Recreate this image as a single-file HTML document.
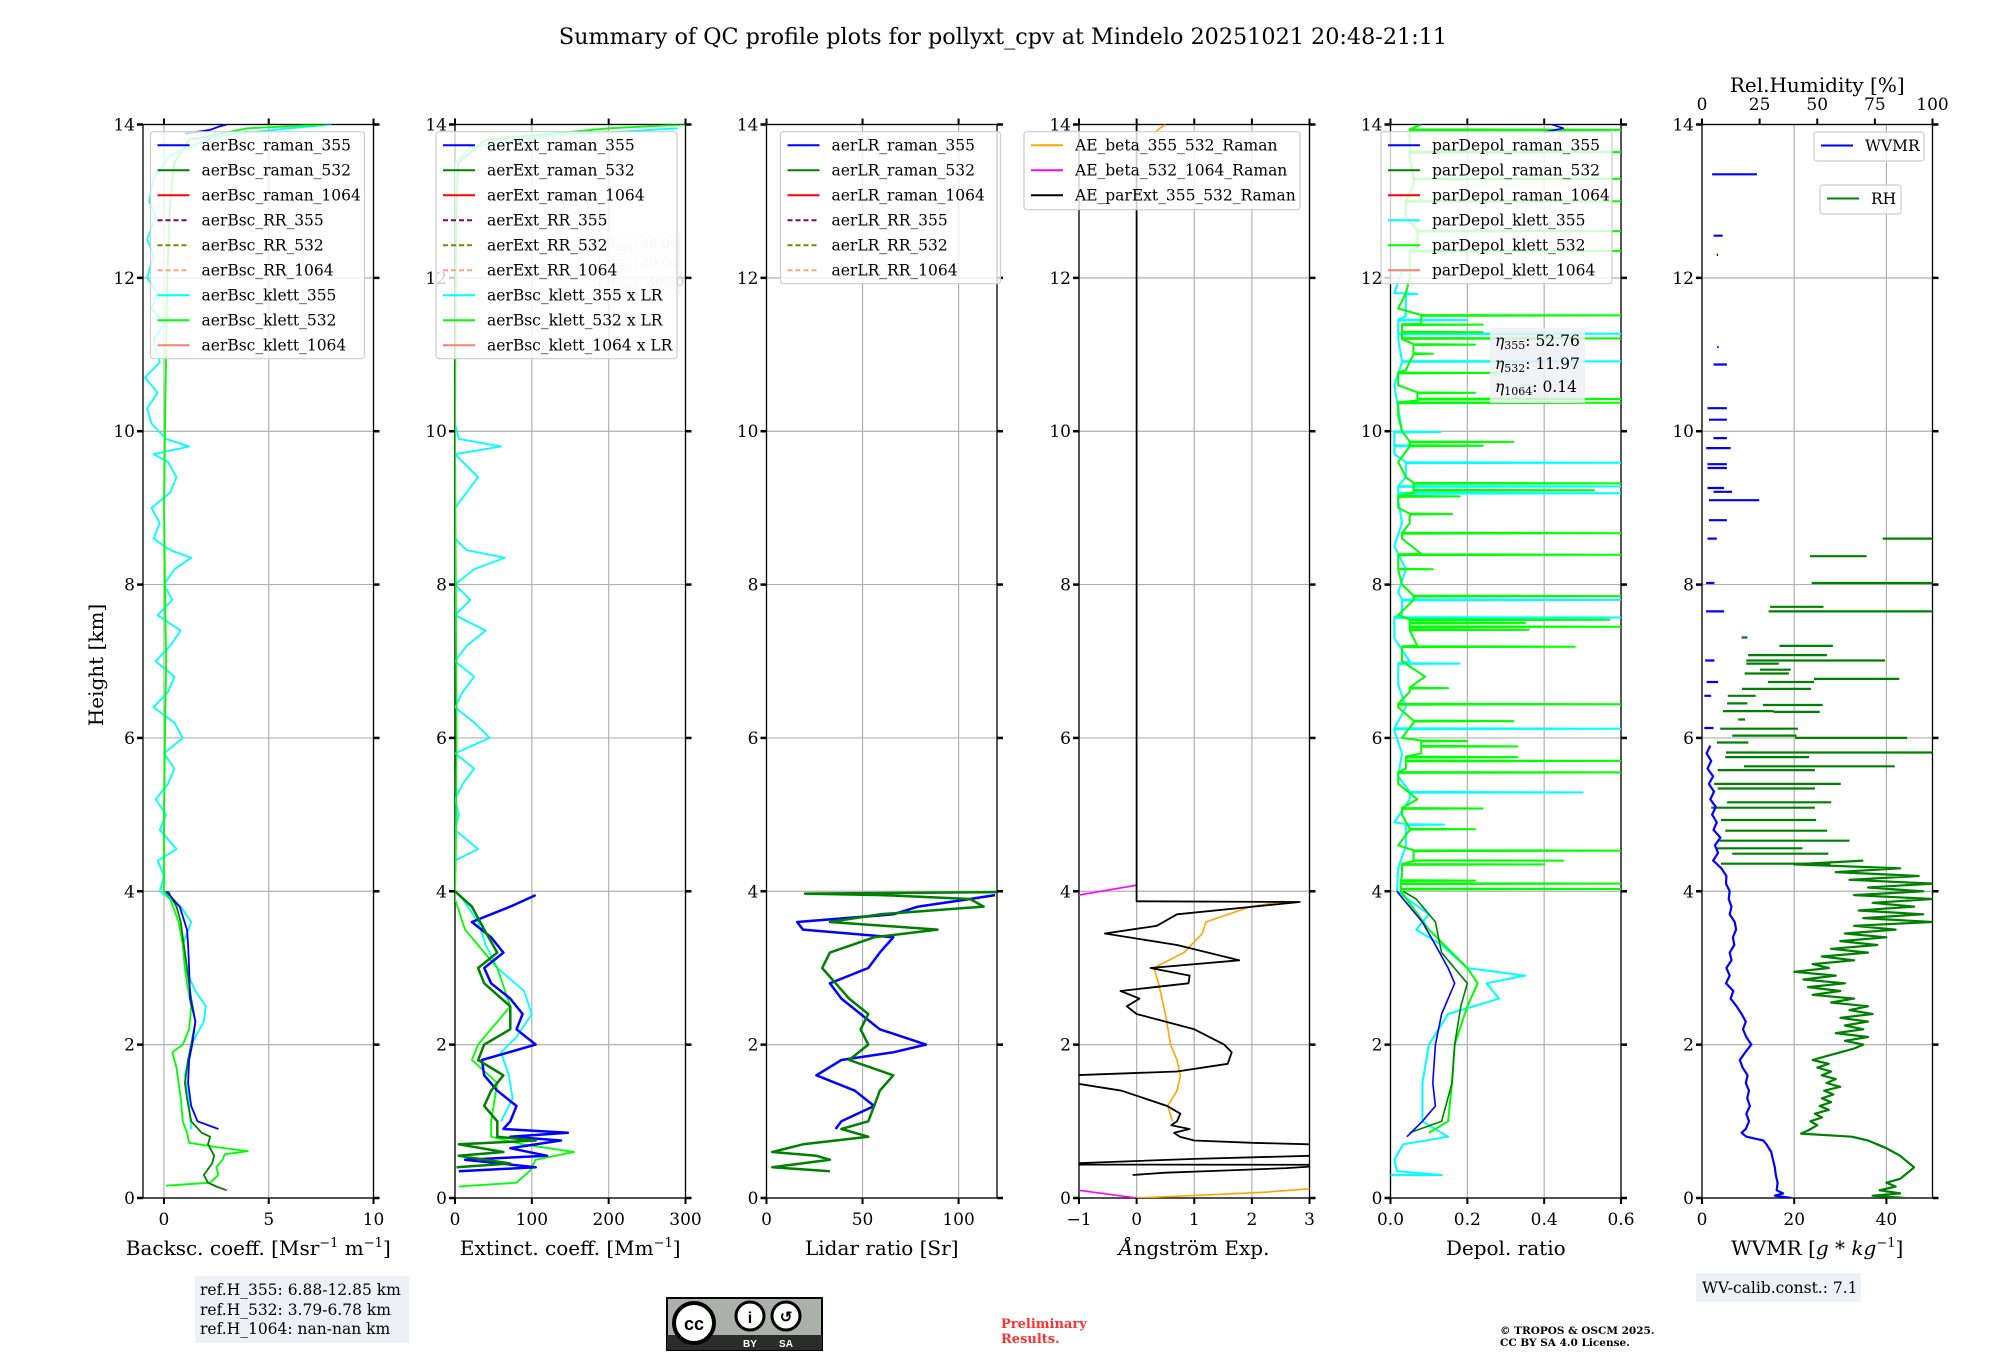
<!DOCTYPE html>
<html><head><meta charset="utf-8"><style>
html,body{margin:0;padding:0;background:#fff;}
svg{display:block;font-family:"DejaVu Serif","Liberation Serif",serif;}
</style></head><body>
<svg id="fig" xmlns="http://www.w3.org/2000/svg" width="2000" height="1360" viewBox="0 0 2000 1360">
<rect width="2000" height="1360" fill="#fff"/>
<text x="1003" y="44" font-size="22.3" text-anchor="middle">Summary of QC profile plots for pollyxt_cpv at Mindelo 20251021 20:48-21:11</text>
<text transform="translate(103,665) rotate(-90)" font-size="20" text-anchor="middle">Height [km]</text>
<g id="layer"></g>
<g>
<rect x="195" y="1276" width="214" height="67" fill="#eef0f5"/>
<text x="200" y="1295" font-size="15.5">ref.H_355: 6.88-12.85 km</text>
<text x="200" y="1315" font-size="15.5">ref.H_532: 3.79-6.78 km</text>
<text x="200" y="1334" font-size="15.5">ref.H_1064: nan-nan km</text>
</g>
<g>
<rect x="667" y="1298" width="155" height="52" fill="#abb1aa" stroke="#000" stroke-width="2"/>
<rect x="667" y="1335" width="155" height="15" fill="#2b2b2b"/>
<circle cx="694" cy="1323" r="20" fill="#fff" stroke="#000" stroke-width="4"/>
<text x="694" y="1330" font-size="18" font-weight="bold" text-anchor="middle" font-family="Liberation Sans, sans-serif">cc</text>
<circle cx="750" cy="1316" r="14" fill="#fff" stroke="#000" stroke-width="3"/>
<text x="750" y="1323" font-size="16" font-weight="bold" text-anchor="middle" font-family="Liberation Sans, sans-serif">i</text>
<circle cx="786" cy="1316" r="14" fill="#fff" stroke="#000" stroke-width="3"/>
<text x="786" y="1322" font-size="15" font-weight="bold" text-anchor="middle" font-family="Liberation Sans, sans-serif">↺</text>
<text x="750" y="1347" font-size="10" fill="#fff" font-weight="bold" text-anchor="middle" font-family="Liberation Sans, sans-serif">BY</text>
<text x="786" y="1347" font-size="10" fill="#fff" font-weight="bold" text-anchor="middle" font-family="Liberation Sans, sans-serif">SA</text>
</g>
<text x="1001" y="1328" font-size="13" fill="#ff3030" font-weight="bold">Preliminary</text>
<text x="1001" y="1343" font-size="13" fill="#ff3030" font-weight="bold">Results.</text>
<text x="1500" y="1334" font-size="10.5" font-weight="bold">© TROPOS &amp; OSCM 2025.</text>
<text x="1500" y="1346" font-size="10.5" font-weight="bold">CC BY SA 4.0 License.</text>
<g>
<rect x="1696" y="1273" width="165" height="29" fill="#eef0f5"/>
<text x="1702" y="1293" font-size="15.5">WV-calib.const.: 7.1</text>
</g>
</svg>
<script>
// ===== DATA =====
const b355H=[0.9,1.0,1.2,1.5,1.8,2.0,2.3,2.6,3.0,3.3,3.5,3.8,4.0];
const b355V=[2.6,1.6,1.3,1.15,1.2,1.35,1.5,1.25,1.2,1.15,1.1,0.75,0.1];
const b355TopH=[13.88,13.93,13.97,14.0];
const b355TopV=[1.0,2.2,2.6,3.0];
const b532H=[0.1,0.15,0.2,0.3,0.45,0.55,0.7,0.8,0.85,1.0,1.3,1.5,1.8,2.0,2.3,2.6,2.8,3.2,3.6,3.8,4.0];
const b532V=[3.0,2.5,2.1,1.9,2.3,2.4,2.1,2.2,1.8,1.3,1.1,1.0,1.15,1.3,1.5,1.3,1.2,1.0,0.8,0.6,0.2];
const bk532H=[0.16,0.2,0.3,0.4,0.5,0.57,0.61,0.66,0.72,0.85,1.0,1.3,1.5,1.7,1.9,2.0,2.2,2.5,2.8,3.0,3.3,3.6,3.9,4.0,5,6,7,8,9,10,11,12,13,13.5,13.8,13.95,14.0];
const bk532V=[0.1,2.2,2.6,2.5,2.8,2.9,4.0,2.6,1.2,1.1,0.9,0.8,0.7,0.6,0.4,0.9,1.2,1.3,1.1,1.0,0.9,0.7,0.3,0.0,0.0,0.05,0.1,0.05,0.0,0.05,0.1,0.15,0.3,0.5,1.2,4.0,7.7];
const bk355H=[0.9,1.2,1.6,2.0,2.3,2.5,2.7,3.0,3.3,3.6,3.8,4.0,4.2,4.4,4.55,4.8,5.0,5.2,5.4,5.6,5.8,6.0,6.2,6.4,6.6,6.8,7.0,7.2,7.4,7.6,7.8,8.0,8.2,8.35,8.45,8.6,8.8,9.0,9.2,9.4,9.6,9.7,9.8,9.9,10.1,10.3,10.5,10.7,10.9,11.2,11.4,11.6,11.8,12.0,12.3,12.5,12.8,13.0,13.3,13.6,13.85,13.95,14.0];
const bk355V=[1.3,1.2,1.0,1.3,1.9,2.0,1.5,1.0,0.9,1.3,0.8,-0.2,0.0,-0.3,0.6,-0.2,0.1,-0.4,0.2,0.5,0.0,0.9,0.5,-0.5,0.2,0.5,-0.4,0.3,0.8,-0.3,0.4,0.0,0.5,1.3,0.3,-0.5,-0.2,-0.6,0.3,0.6,0.2,-0.5,1.2,0.1,-0.6,-0.8,-0.3,-0.9,-0.2,-0.5,0.0,-0.6,-0.3,-0.8,-0.5,-0.8,-0.4,-0.7,-0.5,0.3,2.5,6.0,8.0];
const e355H=[0.35,0.4,0.5,0.55,0.65,0.75,0.8,0.85,0.9,1.0,1.2,1.4,1.6,1.8,2.0,2.2,2.4,2.6,2.8,3.0,3.2,3.4,3.6,3.8,3.95];
const e355V=[5,105,13,120,72,138,72,147,63,72,80,55,38,35,105,80,88,72,47,38,63,47,22,72,105];
const e532H=[0.4,0.45,0.55,0.6,0.7,0.75,0.8,1.0,1.2,1.4,1.6,1.8,2.0,2.2,2.5,2.8,3.0,3.2,3.5,3.8,4.0];
const e532V=[2,72,5,63,5,105,55,55,38,47,63,30,38,72,72,38,30,55,38,22,0];
const ek532H=[0.15,0.2,0.35,0.5,0.6,0.7,0.8,1.0,1.5,1.8,2.0,2.5,3.0,3.5,3.9,4.5,6,8,10,12,13,13.5,13.8,13.95,14];
const ek532V=[5,80,97,105,155,88,47,47,55,22,30,72,55,13,0,1,2,1,0,1,2,4,40,200,300];
const ek355H=[1.0,1.3,1.6,1.9,2.1,2.4,2.7,3.0,3.3,3.6,3.9,4.0,4.2,4.4,4.55,4.8,5.0,5.2,5.4,5.6,5.8,6.0,6.2,6.4,6.6,6.8,7.0,7.2,7.4,7.6,7.8,8.0,8.2,8.35,8.45,8.6,8.8,9.0,9.2,9.4,9.6,9.7,9.8,9.9,10.1,10.5,11.0,11.5,12.0,12.5,13.0,13.5,13.7,13.85,13.95];
const ek355V=[60,75,70,60,80,100,90,55,40,30,10,0,0,0,30,0,5,0,10,25,0,45,25,0,10,25,0,15,40,0,20,0,25,65,15,0,0,0,15,30,10,0,60,5,0,0,0,0,0,0,0,0,20,120,290];
const lr355H=[0.9,1.0,1.2,1.4,1.6,1.8,1.9,2.0,2.2,2.4,2.6,2.8,3.0,3.2,3.4,3.5,3.6,3.7,3.8,3.9,3.95];
const lr355V=[36,39,56,46,26,39,66,83,59,49,39,33,53,59,66,19,16,66,79,106,119];
const lr532H=[0.35,0.4,0.5,0.55,0.6,0.7,0.8,0.9,1.0,1.2,1.4,1.6,1.8,2.0,2.2,2.4,2.6,2.8,3.0,3.2,3.4,3.5,3.6,3.7,3.8,3.9,3.95,3.97,3.99];
const lr532V=[33,3,33,26,3,19,53,39,53,56,59,66,43,53,49,53,43,36,29,33,56,89,33,59,113,106,60,20,125];
const aeExtH=[0.3,0.33,0.36,0.39,0.41,0.43,0.44,0.455,0.51,0.55,0.6,0.7,0.72,0.75,0.8,0.85,0.9,0.95,1.0,1.1,1.2,1.4,1.5,1.6,1.65,1.75,1.9,2.0,2.2,2.4,2.5,2.6,2.7,2.8,2.9,3.0,3.1,3.3,3.45,3.55,3.7,3.86,3.87,14.0];
const aeExtV=[-0.07,0.5,1.6,2.6,3.0,8,-8,-1,1.0,3.0,6,3.0,2.0,1.0,0.75,0.65,0.92,0.6,0.7,0.76,0.53,-0.26,-1.1,-1.1,0.7,1.58,1.65,1.52,1.0,0.0,-0.17,0.05,-0.28,0.9,0.92,0.24,1.78,0.7,-0.55,0.35,0.7,2.83,0.0,0.0];
const aeB355H=[0.0,0.02,0.05,0.08,0.12,0.15,null,1.0,1.2,1.4,1.6,1.8,2.0,2.4,2.8,3.0,3.2,3.45,3.6,3.8,3.87,null,13.88,13.95,14.0];
const aeB355V=[0.0,0.6,1.5,2.3,3.0,4.0,null,0.62,0.54,0.7,0.76,0.7,0.59,0.5,0.38,0.3,0.82,1.14,1.2,1.98,2.56,null,0.3,0.4,0.5];
const aeB532H=[0.0,0.1,0.12,null,3.95,4.08];
const aeB532V=[0.0,-1.0,-1.5,null,-1.0,0.0];
const pd355H=[0.8,1.0,1.2,1.5,2.0,2.4,2.8,3.0,3.3,3.6,3.9,4.0,null,13.9,13.95,14.0];
const pd355V=[0.043,0.083,0.117,0.11,0.117,0.133,0.167,0.15,0.117,0.083,0.033,0.017,null,0.40,0.45,0.42];
const pd532H=[0.85,1.0,1.5,2.0,2.5,2.8,3.2,3.6,3.9,4.0];
const pd532V=[0.05,0.133,0.16,0.167,0.183,0.2,0.133,0.117,0.067,0.033];
const pdk532H=[0.85,1.0,1.5,2.0,2.5,2.8,3.0,3.5,4.0,4.2,4.4,4.6,4.8,5.0,5.2,5.4,5.6,5.8,6.0,6.2,6.4,6.6,6.8,7.0,7.2,7.4,7.6,7.8,8.0,8.2,8.4,8.6,8.8,9.0,9.2,9.4,9.6,9.8,10.0,10.2,10.4,10.6,10.8,11.0,11.2,11.4,11.6,11.8,12.0,12.4,12.8,13.2,13.6,14.0];
const pdk532V=[0.1,0.15,0.16,0.167,0.2,0.227,0.2,0.1,0.027,0.03,0.06,0.02,0.05,0.03,0.07,0.02,0.04,0.08,0.03,0.06,0.02,0.05,0.09,0.03,0.07,0.05,0.02,0.06,0.03,0.02,0.08,0.03,0.05,0.02,0.06,0.04,0.02,0.05,0.03,0.02,0.07,0.02,0.04,0.06,0.03,0.08,0.02,0.04,0.05,0.07,0.04,0.06,0.05,0.08];
const pdk532SpikeH=[4.03,4.10,4.14,4.35,4.40,4.53,4.81,5.08,5.55,5.70,5.75,5.89,5.96,6.22,6.44,6.65,7.19,7.41,7.45,7.50,7.54,7.85,8.20,8.39,8.67,8.92,9.15,9.23,9.32,9.81,9.86,10.37,10.42,10.50,10.76,11.01,11.13,11.21,11.29,11.39,11.51,12.35,12.61,13.0,13.29,13.64,13.93];
const pdk532SpikeV=[0.6,0.6,0.22,0.4,0.45,0.6,0.22,0.24,0.6,0.6,0.33,0.33,0.2,0.32,0.6,0.15,0.48,0.36,0.6,0.35,0.57,0.6,0.11,0.6,0.6,0.16,0.18,0.53,0.6,0.24,0.32,0.6,0.6,0.22,0.28,0.11,0.22,0.6,0.24,0.24,0.6,0.6,0.6,0.6,0.6,0.6,0.6];
const pdk355H=[0.3,0.3,0.35,0.5,0.7,0.8,1.0,1.5,2.0,2.4,2.6,2.8,2.9,3.0,3.3,3.5,3.7,4.0,4.3,4.6,4.9,5.2,5.5,5.8,6.1,6.4,6.7,7.0,7.3,7.6,7.9,8.2,8.5,8.8,9.1,9.4,9.7,10.0,10.3,10.6,10.9,11.2,11.5,11.8,12.1];
const pdk355V=[0.0,0.133,0.017,0.01,0.033,0.15,0.083,0.083,0.1,0.15,0.283,0.25,0.35,0.2,0.133,0.067,0.1,0.017,0.02,0.04,0.01,0.05,0.02,0.03,0.01,0.04,0.02,0.05,0.01,0.03,0.02,0.04,0.01,0.03,0.02,0.04,0.01,0.03,0.02,0.01,0.03,0.02,0.04,0.01,0.03];
const pdk355SpikeH=[4.87,5.29,6.12,6.97,7.57,7.80,9.19,9.28,9.59,9.81,9.99,10.91,11.27,11.45,11.79];
const pdk355SpikeV=[0.14,0.5,0.6,0.18,0.6,0.6,0.6,0.6,0.6,0.24,0.13,0.6,0.6,0.2,0.07];
const wvH=[0.0,0.03,0.06,0.1,0.2,0.3,0.4,0.5,0.6,0.7,0.75,0.8,0.85,0.9,1.0,1.1,1.2,1.3,1.4,1.5,1.6,1.7,1.8,1.9,2.0,2.1,2.2,2.3,2.4,2.5,2.6,2.7,2.8,2.9,3.0,3.1,3.2,3.3,3.4,3.5,3.6,3.7,3.8,3.9,4.0,4.1,4.2,4.3,4.4,4.5,4.6,4.7,4.8,4.9,5.0,5.1,5.2,5.3,5.4,5.5,5.6,5.7,5.8,5.9];
const wvV=[19.4,15.8,17.6,16.2,16.4,16.0,15.8,15.4,15.0,14.0,13.3,9.6,8.6,9.5,10.2,9.6,10.4,9.8,10.2,9.5,9.9,8.8,8.2,9.4,10.7,9.6,8.9,9.5,8.6,7.5,6.2,6.8,5.2,6.0,5.3,6.4,6.0,7.0,6.7,7.4,7.1,6.0,6.4,5.8,6.0,5.2,5.3,4.2,2.4,3.5,2.8,4.0,2.5,3.2,2.2,3.0,1.8,2.6,1.5,2.4,1.2,2.0,1.0,1.8];
const wvSegH=[13.35,12.55,12.3,11.1,10.87,10.30,10.15,9.91,9.78,9.57,9.52,9.26,9.21,9.10,8.84,8.60,8.02,7.65,7.01,6.73,6.55,6.13];
const wvSegA=[2.2,2.5,3.2,3.3,2.5,1.2,1.5,2.5,0.9,1.2,1.2,1.2,2.5,1.5,1.5,1.2,0.9,0.9,0.7,1.0,0.5,0.5];
const wvSegB=[11.9,4.5,3.5,3.6,5.4,5.4,5.4,5.4,6.2,5.4,5.4,4.8,6.5,12.4,5.4,3.2,2.7,4.8,2.7,3.5,2.0,2.5];
const rhH=[0.0,0.03,0.06,0.1,0.15,0.2,0.25,0.3,0.35,0.4,0.45,0.5,0.55,0.6,0.65,0.7,0.75,0.8,0.84,0.88,0.95,1.0,1.05,1.1,1.15,1.2,1.25,1.3,1.35,1.4,1.45,1.5,1.55,1.6,1.65,1.7,1.75,1.8,1.85,1.9,1.95,2.0,2.05,2.1,2.15,2.2,2.25,2.3,2.35,2.4,2.45,2.5,2.55,2.6,2.65,2.7,2.75,2.8,2.85,2.9,2.95,3.0,3.05,3.1,3.15,3.2,3.25,3.3,3.35,3.4,3.45,3.5,3.55,3.6,3.65,3.7,3.75,3.8,3.85,3.9,3.95,4.0,4.05,4.1,4.15,4.2,4.25,4.3,4.35,4.4];
const rhV=[88,74,86,77,84,80,86,88,90,92,90,88,86,83,80,76,72,65,43,46,50,47,52,49,55,51,56,52,57,53,60,54,58,52,56,50,55,48,54,60,66,70,62,72,58,70,62,72,60,74,64,72,56,66,48,60,46,62,44,58,40,55,48,66,52,72,56,76,60,80,62,84,66,100,70,96,68,92,74,100,66,96,72,100,64,94,58,86,40,70];
const rhSegH=[8.60,8.37,8.02,7.71,7.65,7.31,7.20,7.08,7.01,6.97,6.89,6.84,6.77,6.73,6.64,6.55,6.45,6.43,6.35,6.34,6.24,6.12,6.03,6.00,5.94,5.81,5.75,5.63,5.58,5.40,5.34,5.16,5.09,4.93,4.79,4.66,4.56,4.49,4.36];
const rhSegA=[78.4,46.8,47.6,29.5,28.9,17.2,33.6,20.0,19.2,19.2,25.1,18.5,48.6,28.6,17.3,11.2,10.9,26.4,9.1,31.1,15.7,7.9,13.1,40.4,6.5,10.4,10.1,18.2,6.8,5.3,6.8,10.9,4.0,8.2,10.1,7.6,6.5,13.1,8.2];
const rhSegB=[100,71.4,100,52.7,100,19.7,56.8,54.2,79.4,33.3,38.5,37.7,85.6,48.6,47.3,23.3,19.7,52.3,31.1,51.1,18.7,41.6,41.0,89.0,20.1,100,46.4,83.6,49.0,60.2,49.0,56.1,49.0,49.5,54.3,64.0,43.6,54.8,55.7];
const yTicks=[0,2,4,6,8,10,12,14];
const xTicks1=[0,5,10], xTicks2=[0,100,200,300], xTicks3=[0,50,100], xTicks4=[-1,0,1,2,3], xTicks5=[0,0.2,0.4,0.6], xTicks6=[0,20,40], rhTicks=[0,25,50,75,100];

// ===== LAYOUT =====
const NS='http://www.w3.org/2000/svg';
const layer=document.getElementById('layer');
const LEFT=[143,455,766.5,1079,1390.5,1702], W=230.5, TOP=124.5, Y0=1198, PXKM=(1198-124.5)/14;
const LIM=[[-1,10],[0,300],[0,120],[-1,3],[0,0.6],[0,50]];
function yS(h){return Y0-h*PXKM;}
function xS(p,v){return LEFT[p]+(v-LIM[p][0])/(LIM[p][1]-LIM[p][0])*W;}
function mk(tag,attrs,parent){const e=document.createElementNS(NS,tag);for(const k in attrs)e.setAttribute(k,attrs[k]);(parent||layer).appendChild(e);return e;}
const defs=mk('defs',{});
for(let p=0;p<6;p++){const c=mk('clipPath',{id:'clip'+p},defs);mk('rect',{x:LEFT[p],y:TOP,width:W,height:Y0-TOP},c);}
function fmt(v){return v<0?'\u2212'+(-v):String(v);}
function drawSeries(p,hs,vs,color,width,name,dash){
  let d='',pen=false;
  for(let i=0;i<hs.length;i++){
    if(hs[i]===null||vs[i]===null){pen=false;continue;}
    d+=(pen?'L':'M')+xS(p,vs[i]).toFixed(1)+','+yS(hs[i]).toFixed(1);pen=true;
  }
  const e=mk('path',{d:d,fill:'none',stroke:color,'stroke-width':width,'clip-path':'url(#clip'+p+')','stroke-linejoin':'round'});
  if(dash)e.setAttribute('stroke-dasharray',dash);
  
  
  return e;
}
function withSpikes(bh,bv,sh,sv){
  const pts=bh.map((h,i)=>[h,bv[i]]);
  for(let i=0;i<sh.length;i++){
    let base=0.03;for(let j=0;j<bh.length;j++){if(bh[j]<=sh[i])base=bv[j];}
    pts.push([sh[i]-0.006,base]);pts.push([sh[i],sv[i]]);pts.push([sh[i]+0.006,base]);
  }
  pts.sort((a,b)=>a[0]-b[0]);
  return [pts.map(x=>x[0]),pts.map(x=>x[1])];
}
function drawSegs(p,hs,as,bs,color,name){
  let d='';
  for(let i=0;i<hs.length;i++){d+='M'+xS(p,as[i]).toFixed(1)+','+yS(hs[i]).toFixed(1)+'L'+xS(p,bs[i]).toFixed(1)+','+yS(hs[i]).toFixed(1);}
  const e=mk('path',{d:d,fill:'none',stroke:color,'stroke-width':2.2,'clip-path':'url(#clip'+p+')'});
  
  
}
const XT=[xTicks1,xTicks2,xTicks3,xTicks4,xTicks5,xTicks6];
const XLAB=['Backsc. coeff. [Msr<tspan dy="-8" font-size="13">\u22121</tspan><tspan dy="8"> m</tspan><tspan dy="-8" font-size="13">\u22121</tspan><tspan dy="8">]</tspan>',
 'Extinct. coeff. [Mm<tspan dy="-8" font-size="13">\u22121</tspan><tspan dy="8">]</tspan>',
 'Lidar ratio [Sr]','<tspan font-style="italic">Å</tspan>ngström Exp.','Depol. ratio',
 'WVMR [<tspan font-style="italic">g</tspan> * <tspan font-style="italic">kg</tspan><tspan dy="-8" font-size="13">\u22121</tspan><tspan dy="8">]</tspan>'];
function fmtX(p,v){if(p===4)return v.toFixed(1);return fmt(v);}
for(let p=0;p<6;p++){
  const g=mk('g',{});
  
  
  for(const t of yTicks){const gl=mk('line',{x1:LEFT[p],x2:LEFT[p]+W,y1:yS(t),y2:yS(t),stroke:'#b0b0b0','stroke-width':1.2},g);
    }
  for(const t of XT[p]){const gl=mk('line',{x1:xS(p,t),x2:xS(p,t),y1:TOP,y2:Y0,stroke:'#b0b0b0','stroke-width':1.2},g);
    }
  mk('rect',{x:LEFT[p],y:TOP,width:W,height:Y0-TOP,fill:'none',stroke:'#000','stroke-width':1.3},g);
  for(const t of yTicks){
    mk('line',{x1:LEFT[p]-6,x2:LEFT[p],y1:yS(t),y2:yS(t),stroke:'#000','stroke-width':2.5},g);
    mk('line',{x1:LEFT[p]+W,x2:LEFT[p]+W+6,y1:yS(t),y2:yS(t),stroke:'#000','stroke-width':2.5},g);
    const tl=mk('text',{x:LEFT[p]-8,y:yS(t)+6,'font-size':17,'text-anchor':'end'},g);tl.textContent=String(t);
    
  }
  for(const t of XT[p]){
    mk('line',{x1:xS(p,t),x2:xS(p,t),y1:Y0,y2:Y0+6,stroke:'#000','stroke-width':2},g);
    if(p<5) mk('line',{x1:xS(p,t),x2:xS(p,t),y1:TOP-6,y2:TOP,stroke:'#000','stroke-width':2},g);
    const tl=mk('text',{x:xS(p,t),y:Y0+27,'font-size':17,'text-anchor':'middle'},g);tl.textContent=fmtX(p,t);
    
  }
  const xl=mk('text',{x:LEFT[p]+W/2,y:1255,'font-size':20,'text-anchor':'middle'},g);xl.innerHTML=XLAB[p];
  
}
for(const t of rhTicks){
  const x=LEFT[5]+t/100*W;
  mk('line',{x1:x,x2:x,y1:TOP-6,y2:TOP,stroke:'#000','stroke-width':2});
  const tl=mk('text',{x:x,y:110,'font-size':17,'text-anchor':'middle'});tl.textContent=String(t);
  
}
{const t=mk('text',{x:LEFT[5]+W/2,y:92,'font-size':20,'text-anchor':'middle'});t.textContent='Rel.Humidity [%]';
}

// ===== SERIES =====
drawSeries(0,bk355H,bk355V,'#00ffff',1.8,'aerbsc-klett-355');
drawSeries(0,bk532H,bk532V,'#00ff00',1.8,'aerbsc-klett-532');
drawSeries(0,b532H,b532V,'#008000',1.8,'aerbsc-raman-532');
drawSeries(0,b355H,b355V,'#0000ff',1.8,'aerbsc-raman-355');
drawSeries(0,b355TopH,b355TopV,'#0000ff',1.8,'aerbsc-raman-355-top');

drawSeries(1,ek355H,ek355V,'#00ffff',1.8,'aerext-klett-355-lr');
drawSeries(1,ek532H,ek532V,'#00ff00',1.8,'aerext-klett-532-lr');
drawSeries(1,e355H,e355V,'#0000ff',2.5,'aerext-raman-355');
drawSeries(1,e532H,e532V,'#008000',2.5,'aerext-raman-532');

drawSeries(2,lr355H,lr355V,'#0000ff',2.5,'aerlr-raman-355');
drawSeries(2,lr532H,lr532V,'#008000',2.5,'aerlr-raman-532');

drawSeries(3,aeB355H,aeB355V,'#ffa500',1.6,'ae-beta-355-532');
drawSeries(3,aeB532H,aeB532V,'#ff00ff',1.6,'ae-beta-532-1064');
drawSeries(3,aeExtH,aeExtV,'#000000',1.8,'ae-parext-355-532');

{const s=withSpikes(pdk355H,pdk355V,pdk355SpikeH,pdk355SpikeV);drawSeries(4,s[0],s[1],'#00ffff',2,'pardepol-klett-355');}
{const s=withSpikes(pdk532H,pdk532V,pdk532SpikeH,pdk532SpikeV);drawSeries(4,s[0],s[1],'#00ff00',2,'pardepol-klett-532');}
drawSeries(4,pd532H,pd532V,'#008000',1.6,'pardepol-raman-532');
drawSeries(4,pd355H,pd355V,'#0000ff',1.6,'pardepol-raman-355');

const rhAsWv=rhV.map(v=>v/2), rhSegAw=rhSegA.map(v=>v/2), rhSegBw=rhSegB.map(v=>v/2);
drawSeries(5,rhH,rhAsWv,'#008000',2.2,'rh-profile');
drawSegs(5,rhSegH,rhSegAw,rhSegBw,'#008000','rh-profile-upper');
drawSeries(5,wvH,wvV,'#0000ff',2.2,'wvmr-profile');
drawSegs(5,wvSegH,wvSegA,wvSegB,'#0000ff','wvmr-profile-upper');

{const g=mk('g',{});
mk('rect',{x:593,y:232,width:88,height:63,fill:'#eef0f5','fill-opacity':0.6},g);
const lines=[['LR','355',': 48.00'],['LR','532',': 39.00'],['LR','1064',': 30.00']];
lines.forEach((l,i)=>{const t=mk('text',{x:597,y:248+i*19,'font-size':13,fill:'#c8c8c8'},g);
 t.innerHTML=l[0]+'<tspan font-size="9" dy="3">'+l[1]+'</tspan><tspan dy="-3">'+l[2]+'</tspan>';});}

function legend(name,x,y,w,h,items){
  const g=mk('g',{});
  mk('rect',{x:x,y:y,width:w,height:h,rx:3,fill:'#fff','fill-opacity':0.8,stroke:'#cccccc','stroke-width':1.2},g);
  items.forEach((it,i)=>{
    const yy=y+13.5+i*25;
    const ln=mk('line',{x1:x+7,x2:x+39,y1:yy,y2:yy,stroke:it[1],'stroke-width':2},g);
    if(it[2])ln.setAttribute('stroke-dasharray','5,3');
    const t=mk('text',{x:x+51,y:yy+5.5,'font-size':15.5},g);t.textContent=it[0];
    
  });
}
legend('legend-backscatter',150.5,131.7,214,227,[['aerBsc_raman_355','#0000ff'],['aerBsc_raman_532','#008000'],['aerBsc_raman_1064','#ff0000'],['aerBsc_RR_355','#800080',1],['aerBsc_RR_532','#808000',1],['aerBsc_RR_1064','#ffa07a',1],['aerBsc_klett_355','#00ffff'],['aerBsc_klett_532','#00ff00'],['aerBsc_klett_1064','#fa8072']]);
legend('legend-extinction',436,131.7,241,227,[['aerExt_raman_355','#0000ff'],['aerExt_raman_532','#008000'],['aerExt_raman_1064','#ff0000'],['aerExt_RR_355','#800080',1],['aerExt_RR_532','#808000',1],['aerExt_RR_1064','#ffa07a',1],['aerBsc_klett_355 x LR','#00ffff'],['aerBsc_klett_532 x LR','#00ff00'],['aerBsc_klett_1064 x LR','#fa8072']]);
legend('legend-lidar-ratio',780.5,131.7,220,152,[['aerLR_raman_355','#0000ff'],['aerLR_raman_532','#008000'],['aerLR_raman_1064','#ff0000'],['aerLR_RR_355','#800080',1],['aerLR_RR_532','#808000',1],['aerLR_RR_1064','#ffa07a',1]]);
legend('legend-angstrom',1024,131.7,276,78,[['AE_beta_355_532_Raman','#ffa500'],['AE_beta_532_1064_Raman','#ff00ff'],['AE_parExt_355_532_Raman','#000000']]);
legend('legend-depol',1381,131.7,231,152,[['parDepol_raman_355','#0000ff'],['parDepol_raman_532','#008000'],['parDepol_raman_1064','#ff0000'],['parDepol_klett_355','#00ffff'],['parDepol_klett_532','#00ff00'],['parDepol_klett_1064','#fa8072']]);
legend('legend-wvmr',1814,132,110,29,[['WVMR','#0000ff']]);
legend('legend-rh',1820,185,81,29,[['RH','#008000']]);

{const g=mk('g',{});
mk('rect',{x:1490,y:328,width:95,height:75,fill:'#eef0f5','fill-opacity':0.85},g);
[['355',': 52.76'],['532',': 11.97'],['1064',': 0.14']].forEach((l,i)=>{
 const t=mk('text',{x:1495,y:346+i*23,'font-size':15.5},g);
 t.innerHTML='<tspan font-style="italic">η</tspan><tspan font-size="11" dy="3">'+l[0]+'</tspan><tspan dy="-3">'+l[1]+'</tspan>';});}
</script>
</body></html>
